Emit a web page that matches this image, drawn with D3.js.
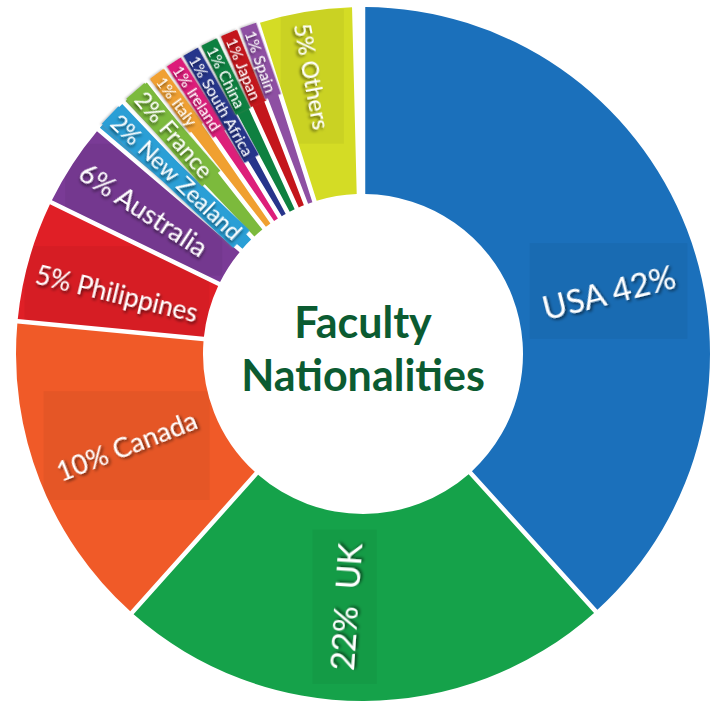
<!DOCTYPE html>
<html>
<head>
<meta charset="utf-8">
<script src="https://cdn.jsdelivr.net/npm/d3@7"></script>
<style>
  body { margin: 0; background: #fff; }
  svg text { font-family: Lato, "Open Sans", sans-serif; }
</style>
</head>
<body>
<div id="chart-area"></div>
<script>
// chart data
const countries = ['USA', 'UK', 'Canada', 'Philippines', 'Australia', 'New Zealand', 'France',
  'Italy', 'Ireland', 'South Africa', 'China', 'Japan', 'Spain', 'Others'];
const percents = [42, 22, 10, 5, 6, 2, 2, 1, 1, 1, 1, 1, 1, 5];
// share of the circle each slice really covers in the picture (% of 360deg)
const sliceShares = [38.3, 23.3, 14.9, 5.7, 4.0, 1.7, 1.5, 1.0, 0.9, 0.9, 1.0, 1.0, 0.9, 4.5];
const colors = ['#1b70bb', '#15a24a', '#f05a28', '#e01f26', '#7a3b96', '#2a9fd6', '#7cba3c',
  '#f0a030', '#dd1f7a', '#27348b', '#0e8040', '#c4161c', '#8e4fa3', '#d4dc25'];
const titleLines = ['Faculty', 'Nationalities'];

// label styling: font size + small angle nudge (deg)
const labelStyle = {
  'USA': { size: 33, nudge: 7 },
  'UK': { size: 33, nudge: 4 },
  'Canada': { size: 27, nudge: 0 },
  'Philippines': { size: 26, nudge: -2 },
  'Australia': { size: 27, nudge: 0 },
  'New Zealand': { size: 23, nudge: 0 },
  'France': { size: 23, nudge: 0 },
  'Others': { size: 23, nudge: -1 }
};

const width = 721;
const height = 702;
const cx = 363;
const cy = 354;
const outerR = 347;
const innerR = 160;

const svg = d3.select('#chart-area').append('svg')
  .attr('width', width)
  .attr('height', height);

const defs = svg.append('defs');
defs.append('filter')
  .attr('id', 'txt-shadow')
  .attr('x', '-20%').attr('y', '-50%').attr('width', '140%').attr('height', '200%')
  .append('feDropShadow')
    .attr('dx', 1.5).attr('dy', 2).attr('stdDeviation', 1.4)
    .attr('flood-color', '#000').attr('flood-opacity', 0.6);
defs.append('filter')
  .attr('id', 'box-shadow')
  .attr('x', '-30%').attr('y', '-30%').attr('width', '160%').attr('height', '160%')
  .append('feDropShadow')
    .attr('dx', -1).attr('dy', 1).attr('stdDeviation', 1.2)
    .attr('flood-color', '#777').attr('flood-opacity', 0.45);

const data = countries.map((name, i) => ({
  name: name,
  pct: percents[i],
  share: sliceShares[i],
  color: colors[i]
}));

const pie = d3.pie()
  .sort(null)
  .value(d => d.share)
  .startAngle(0)
  .endAngle(2 * Math.PI * d3.sum(sliceShares) / 100);

const arc = d3.arc()
  .innerRadius(innerR)
  .outerRadius(outerR)
  .padRadius(300)
  .padAngle(0.015);

const g = svg.append('g')
  .attr('transform', `translate(${cx}, ${cy})`);

const arcs = pie(data);

// clip paths, one per slice (used for the faint label shading)
arcs.forEach((a, i) => {
  defs.append('clipPath')
    .attr('id', `clip-${i}`)
    .attr('transform', `translate(${cx}, ${cy})`)
    .append('path')
      .attr('d', arc(a));
});

// slices
g.selectAll('path.slice')
  .data(arcs)
  .enter()
  .append('path')
    .attr('class', 'slice')
    .attr('d', arc)
    .attr('fill', d => d.data.color);

// labels
const deg = 180 / Math.PI;
arcs.forEach((a, i) => {
  const d = a.data;
  const st = labelStyle[d.name] || { size: 16, nudge: 0 };
  const theta = (a.startAngle + a.endAngle) / 2 * deg + st.nudge;
  const outward = theta < 180;
  const label = d.name === 'USA' ? `${d.name} ${d.pct}%` : d.name === 'UK'
    ? `${d.pct}%  ${d.name}` : `${d.pct}% ${d.name}`;
  const boxed = d.share < 2;
  const centred = d.share >= 5;

  const lg = g.append('g').attr('class', 'label');
  const rot = lg.append('g')
    .attr('transform', `rotate(${outward ? theta - 90 : theta + 90})`);

  const txt = rot.append('text')
    .attr('fill', '#fff')
    .attr('font-size', st.size)
    .attr('dy', '0.35em')
    .style('white-space', 'pre')
    .attr('filter', 'url(#txt-shadow)')
    .text(label);

  const len = txt.node().getComputedTextLength();
  const midR = (innerR + outerR) / 2;
  let startR;
  if (centred) startR = midR + len / 2;
  else if (boxed) startR = outerR - 5;
  else startR = outerR - 11;

  // inward reading: +x points to the centre
  if (outward) {
    txt.attr('x', midR - len / 2);
  } else {
    txt.attr('x', -startR);
  }

  if (boxed) {
    const bw = st.size * 1.05;
    rot.insert('rect', 'text')
      .attr('x', -(outerR + 1))
      .attr('y', -bw / 2)
      .attr('width', len + (outerR + 1 - startR) + 5)
      .attr('height', bw)
      .attr('fill', d.color)
      .attr('filter', 'url(#box-shadow)');
  } else {
    // faint shading box behind the big labels, kept inside the slice
    const bb = lg.node().getBBox();
    svg.insert('rect', 'g')
      .attr('x', bb.x - 8)
      .attr('y', bb.y - 12)
      .attr('width', bb.width + 16)
      .attr('height', bb.height + 24)
      .attr('transform', `translate(${cx}, ${cy})`)
      .attr('fill', '#000')
      .attr('opacity', 0.045)
      .attr('clip-path', `url(#clip-${i})`)
      .lower();
  }
});

// put shading boxes above slices but below labels
svg.selectAll('rect[clip-path]').each(function() {
  g.node().insertBefore(this, g.select('g.label').node());
  d3.select(this).attr('transform', null);
});
defs.selectAll('clipPath').attr('transform', null);

// centre title
g.append('text')
  .attr('text-anchor', 'middle')
  .attr('font-size', 43)
  .attr('font-weight', 'bold')
  .attr('fill', '#0b5b31')
  .selectAll('tspan')
  .data(titleLines)
  .enter()
  .append('tspan')
    .attr('x', 0)
    .attr('y', (d, i) => 338 - cy + i * 53)
    .text(d => d);
</script>
</body>
</html>
